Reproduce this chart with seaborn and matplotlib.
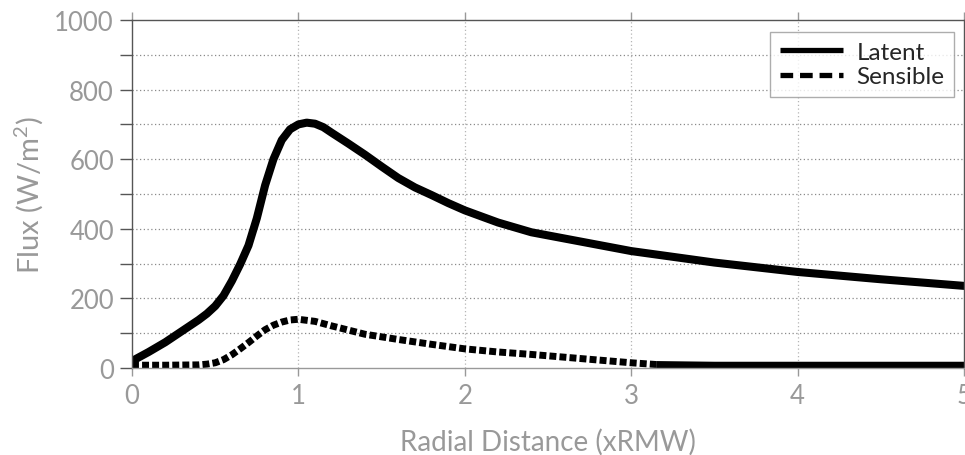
import numpy as np
import pandas as pd
import matplotlib
matplotlib.use("Agg")
import matplotlib.pyplot as plt
from matplotlib.lines import Line2D
from matplotlib.ticker import MultipleLocator
import seaborn as sns

# ---- data ----
latent_x = [0.0, 0.1, 0.2, 0.3, 0.4, 0.45, 0.5, 0.55, 0.6, 0.65, 0.7, 0.75, 0.8, 0.85, 0.9,
            0.95, 1.0, 1.05, 1.1, 1.15, 1.2, 1.3, 1.4, 1.5, 1.6, 1.7, 1.8, 1.9, 2.0, 2.2, 2.4,
            2.6, 2.8, 3.0, 3.5, 4.0, 4.5, 5.0]
latent_y = [20, 46, 74, 106, 138, 156, 178, 208, 250, 298, 352, 430, 525, 600, 655,
            686, 700, 705, 702, 692, 676, 645, 613, 579, 546, 519, 497, 474, 453, 418, 390,
            372, 354, 336, 303, 276, 255, 236]

sens_x = [0.0, 0.2, 0.4, 0.45, 0.5, 0.55, 0.6, 0.65, 0.7, 0.75, 0.8, 0.85, 0.9, 0.95, 1.0,
          1.1, 1.2, 1.4, 1.6, 1.8, 2.0, 2.2, 2.4, 2.6, 2.8, 3.0, 3.15, 3.5, 4.0, 4.5, 5.0]
sens_y = [8, 8, 9, 11, 15, 24, 38, 55, 73, 92, 110, 123, 132, 138, 140,
          134, 121, 97, 82, 68, 55, 46, 39, 31, 23, 15, 10, 8, 8, 8, 8]

series_names = ["Latent", "Sensible"]
x_ticks = [0, 1, 2, 3, 4, 5]
y_ticks = [0, 200, 400, 600, 800, 1000]
x_label = "Radial Distance (xRMW)"
y_label = "Flux (W/m$^{2}$)"

lat_df = pd.DataFrame({"x": latent_x, "y": latent_y})
sens_df = pd.DataFrame({"x": sens_x, "y": sens_y})
sens_dashed = sens_df[sens_df["x"] <= 3.15]
sens_tail = sens_df[sens_df["x"] >= 3.15]

sns.set_style("white")
plt.rcParams["font.family"] = ["Lato", "DejaVu Sans"]
plt.rcParams["mathtext.fontset"] = "custom"
plt.rcParams["mathtext.rm"] = "Lato"
plt.rcParams["mathtext.default"] = "regular"

fig = plt.figure(figsize=(9.65, 4.56), dpi=100)
ax = fig.add_axes([132 / 965, (456 - 369) / 456, (964 - 132) / 965, (369 - 21) / 456])

tick_gray = "#999999"
dark = "#555555"

sns.lineplot(data=lat_df, x="x", y="y", ax=ax, color="black", linewidth=5.8,
             solid_capstyle="round", solid_joinstyle="round")
sns.lineplot(data=sens_dashed, x="x", y="y", ax=ax, color="black", linewidth=5.0,
             linestyle=(0, (1.0, 0.45)), dash_capstyle="butt")
sns.lineplot(data=sens_tail, x="x", y="y", ax=ax, color="black", linewidth=5.0,
             solid_capstyle="butt")

ax.set_xlim(0, 5)
ax.set_ylim(0, 1000)
ax.set_xticks(x_ticks)
ax.set_yticks(y_ticks)
ax.yaxis.set_minor_locator(MultipleLocator(100))

ax.grid(False)
for yv in range(100, 1000, 100):
    ax.axhline(yv, color="#8a8a8a", linestyle=(0, (1, 2)), linewidth=0.9, zorder=0)
for xv in x_ticks[1:-1]:
    ax.axvline(xv, color="#b5b5b5", linestyle=(0, (1, 2)), linewidth=0.9, zorder=0)

ax.set_xlabel(x_label, fontsize=20, color=tick_gray, labelpad=14)
ax.set_ylabel(y_label, fontsize=21, color=tick_gray, labelpad=7)

ax.tick_params(axis="x", which="major", direction="out", length=6, width=1,
               color=tick_gray, labelcolor=tick_gray, labelsize=18.5, pad=5,
               top=True, bottom=True)
ax.tick_params(axis="y", which="both", direction="out", length=9, width=1,
               color=dark, labelcolor=tick_gray, labelsize=18.5, pad=4, left=True)
ax.tick_params(axis="y", which="minor", labelleft=False)

for side in ["top", "left", "right"]:
    ax.spines[side].set_visible(True)
    ax.spines[side].set_color(dark)
    ax.spines[side].set_linewidth(1.0)
ax.spines["bottom"].set_color(tick_gray)
ax.spines["bottom"].set_linewidth(1.0)

for t in ax.xaxis.get_major_ticks():
    t.tick2line.set_color(dark)

handles = [
    Line2D([0], [0], color="black", linewidth=3.8, solid_capstyle="butt"),
    Line2D([0], [0], color="black", linewidth=3.8, linestyle=(0, (2.4, 1.3)),
           dash_capstyle="butt"),
]
leg = ax.legend(handles, series_names, loc="upper right", bbox_to_anchor=(0.988, 0.966),
                fontsize=17.5, frameon=True, fancybox=False, handlelength=2.6,
                handletextpad=0.55, borderpad=0.4, labelspacing=0.15,
                borderaxespad=0)
leg.get_frame().set_edgecolor("#999999")
leg.get_frame().set_linewidth(1.0)

fig.savefig("out.png", dpi=100)
